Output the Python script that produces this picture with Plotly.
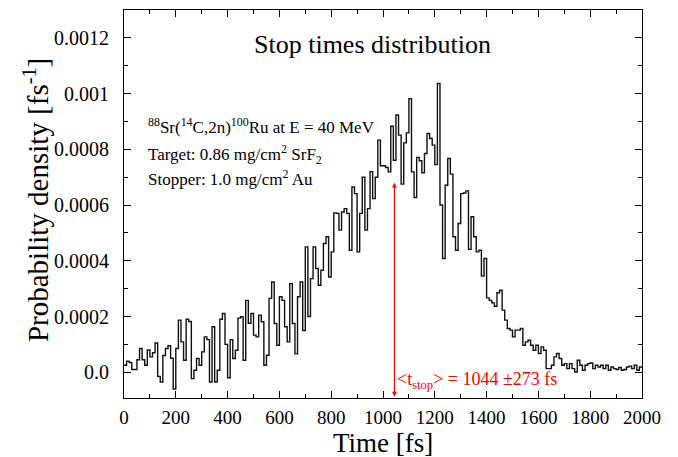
import numpy as np
import plotly.graph_objects as go

# Stop-time histogram, 10 fs bins from 0 to 2000 fs (values in 1e-6 fs^-1)
bin_width = 10
density_e6 = [
    25, 40, 35, 10, 10, 45, 85, 45, 25, 80,
    55, 70, 105, -15, -35, 60, 85, 95, 50, -60,
    85, 187, 109, 43, 190, 182, -23, 7, 49, 25,
    73, 127, 117, -35, 163, -35, 7, 190, 211, 100,
    -20, 117, 49, 79, 194, 199, 43, 258, 176, 211,
    133, 127, 205, 181, 25, 61, 265, 324, 175, 97,
    271, 258, 163, 109, 318, 175, 66, 271, 324, 150,
    450, 200, 336, 450, 372, 312, 366, 462, 486, 342,
    432, 572, 570, 510, 575, 587, 570, 438, 665, 641,
    432, 570, 700, 510, 587, 720, 623, 700, 833, 741,
    741, 735, 719, 883, 761, 923, 851, 675, 823, 859,
    982, 719, 627, 771, 759, 716, 785, 857, 839, 815,
    745, 1036, 600, 408, 671, 767, 711, 486, 438, 534,
    641, 643, 651, 441, 558, 486, 432, 438, 345, 408,
    267, 258, 249, 237, 285, 294, 223, 187, 157, 151,
    127, 151, 151, 157, 97, 109, 115, 97, 79, 97,
    67, 91, 79, 13, 13, 25, 55, 67, 49, 25,
    31, 13, 31, 13, 1, 43, 25, 7, 25, 31,
    33, 13, 25, 19, 25, 13, 25, 7, 19, 13,
    10, 17, 7, 10, 19, 22, 13, 25, 7, 19,
]
mean_stop = 1044
sigma_stop = 273
arrow_top = 0.00068

x_ticks = [0, 200, 400, 600, 800, 1000, 1200, 1400, 1600, 1800, 2000]
y_ticks = [0.0, 0.0002, 0.0004, 0.0006, 0.0008, 0.001, 0.0012]
y_labels = ["0.0", "0.0002", "0.0004", "0.0006", "0.0008", "0.001", "0.0012"]

density = np.array(density_e6) * 1e-6
edges = np.arange(len(density) + 1) * bin_width
y_step = np.append(density, density[-1])

font = "Liberation Serif"
y_lo, y_hi = -0.0000925, 0.0013

fig = go.Figure()
fig.add_trace(go.Scatter(
    x=edges, y=y_step, mode="lines", line_shape="hv",
    line=dict(color="#111111", width=1.4),
    showlegend=False, hoverinfo="skip",
))

# mean stop time arrow (double headed, from axis bottom up)
fig.add_annotation(
    x=mean_stop, y=arrow_top, ax=mean_stop, ay=y_lo,
    xref="x", yref="y", axref="x", ayref="y",
    showarrow=True, arrowside="end+start",
    arrowhead=2, startarrowhead=2, arrowsize=0.8, startarrowsize=0.8,
    arrowwidth=1.2, arrowcolor="red", text="",
)
fig.add_annotation(
    x=mean_stop + 4, y=-0.00003, xref="x", yref="y",
    text=f"&lt;t<sub>stop</sub>&gt; = {mean_stop} ±{sigma_stop} fs",
    showarrow=False, xanchor="left", yanchor="middle",
    font=dict(family=font, size=18, color="red"),
)

fig.add_annotation(
    x=0.479, y=0.001177, xref="paper", yref="y",
    text="Stop times distribution", showarrow=False,
    font=dict(family=font, size=26, color="black"),
)
info = [
    ("<sup>88</sup>Sr(<sup>14</sup>C,2n)<sup>100</sup>Ru at E = 40 MeV", 0.000884),
    ("Target: 0.86 mg/cm<sup>2</sup> SrF<sub>2</sub>", 0.000780),
    ("Stopper: 1.0 mg/cm<sup>2</sup> Au", 0.000697),
]
for txt, yy in info:
    fig.add_annotation(
        x=85, y=yy, xref="x", yref="y", text=txt, showarrow=False,
        xanchor="left", yanchor="middle",
        font=dict(family=font, size=17, color="black"),
    )

# axis titles placed by hand
fig.add_annotation(
    x=0.5, y=-0.116, xref="paper", yref="paper", yanchor="middle",
    text="Time [fs]", showarrow=False,
    font=dict(family=font, size=27, color="black"),
)
fig.add_annotation(
    x=-0.17, y=0.51, xref="paper", yref="paper", textangle=-90,
    xanchor="center", yanchor="middle",
    text="Probability density [fs<sup>-1</sup>]", showarrow=False,
    font=dict(family=font, size=29, color="black"),
)

fig.update_xaxes(
    range=[0, 2000], tickvals=x_ticks, ticks="inside", ticklen=7,
    tickcolor="black", minor=dict(dtick=100, ticks="inside", ticklen=4, tickcolor="black"),
    showline=True, linecolor="black", linewidth=1, mirror="ticks",
    showgrid=False, zeroline=False, ticklabelstandoff=2, automargin=False,
    tickfont=dict(family=font, size=19, color="black"),
)
fig.update_yaxes(
    range=[y_lo, y_hi], tickvals=y_ticks, ticktext=y_labels,
    ticks="inside", ticklen=7, tickcolor="black",
    minor=dict(dtick=0.0001, tick0=0, ticks="inside", ticklen=4, tickcolor="black"),
    showline=True, linecolor="black", linewidth=1, mirror="ticks",
    showgrid=False, zeroline=False, ticklabelstandoff=10, automargin=False,
    tickfont=dict(family=font, size=20, color="black"),
)

# the page body adds a small offset, so the figure is sized to land the frame at the right spot
fig.update_layout(
    width=670, height=449,
    margin=dict(l=116, r=36, t=2, b=59),
    plot_bgcolor="white", paper_bgcolor="white",
    font=dict(family=font, color="black"),
)

fig.write_html("out.html")
